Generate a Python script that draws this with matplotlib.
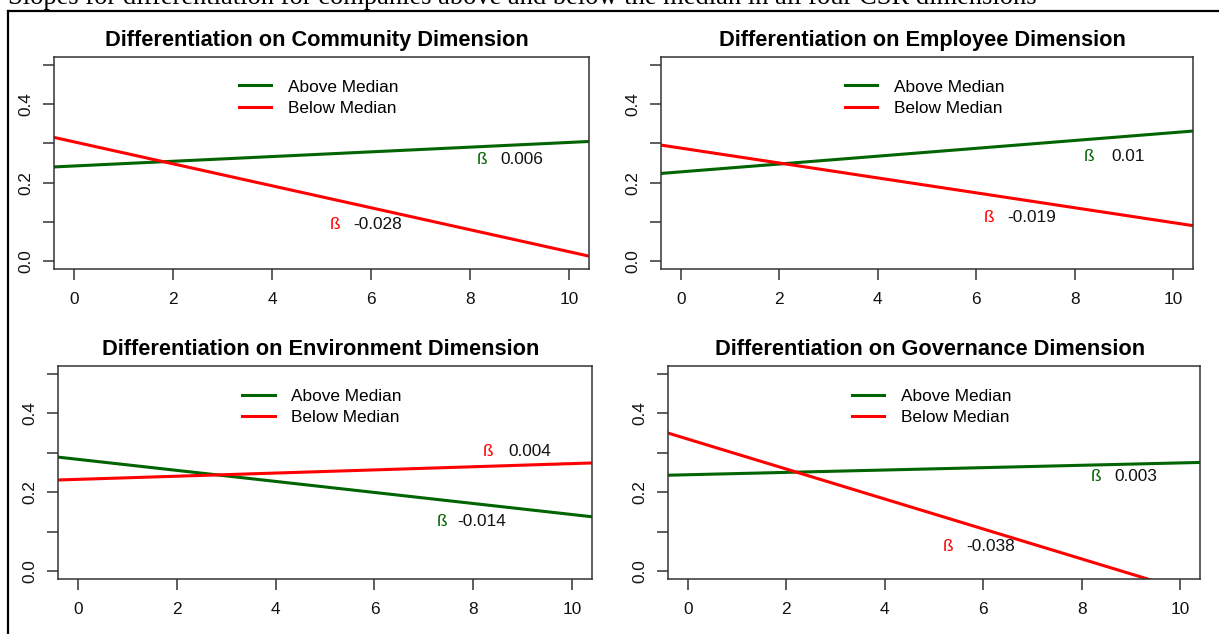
import numpy as np
import matplotlib
matplotlib.use("Agg")
import matplotlib.pyplot as plt
from matplotlib.lines import Line2D

plt.rcParams['font.family'] = ['Liberation Sans', 'DejaVu Sans']

W, H = 1219, 634

# data
titles = ["Differentiation on Community Dimension",
          "Differentiation on Employee Dimension",
          "Differentiation on Environment Dimension",
          "Differentiation on Governance Dimension"]
above_icpt = [0.2424, 0.2274, 0.2834, 0.2443]
above_slope = [0.006, 0.010, -0.014, 0.003]
below_icpt = [0.304, 0.288, 0.2326, 0.3348]
below_slope = [-0.028, -0.019, 0.004, -0.038]
above_lab = ["0.006", "0.01", "-0.014", "0.003"]
below_lab = ["-0.028", "-0.019", "0.004", "-0.038"]
above_lab_x = [8.24, 8.28, 7.37, 8.30]
above_lab_y = [0.260, 0.266, 0.126, 0.240]
below_lab_x = [5.28, 6.27, 8.29, 5.29]
below_lab_y = [0.094, 0.112, 0.303, 0.062]
xticks = [0, 2, 4, 6, 8, 10]
yticks = [0.0, 0.1, 0.2, 0.3, 0.4, 0.5]
ylabels = ["0.0", "", "0.2", "", "0.4", ""]
caption = "Slopes for differentiation for companies above and below the median in all four CSR dimensions"

# panel boxes in pixels: left, top, right, bottom
boxes = [(54, 57, 589, 269), (661, 57, 1193, 269),
         (58, 366, 592, 579), (668, 366, 1200, 579)]

GREEN = "#006400"
RED = "#ff0000"
FS = 12.4

fig = plt.figure(figsize=(W / 100, H / 100), dpi=100)
fig.patch.set_facecolor("white")

# caption of the page, cut off at the top as in the screenshot
fig.text(8 / W, 1 - 4.5 / H, caption, family="Liberation Serif", fontsize=19.1,
         ha="left", va="baseline", color="black")
fig.add_artist(Line2D([8.3 / W, 8.3 / W], [0, 1 - 10.5 / H], color="black", lw=1.6,
                      transform=fig.transFigure))
fig.add_artist(Line2D([8.3 / W, 1], [1 - 10.5 / H, 1 - 10.5 / H], color="black", lw=1.6,
                      transform=fig.transFigure))

xs = np.array([-0.4, 10.4])
for i in range(4):
    l, t, r, b = boxes[i]
    ax = fig.add_axes([l / W, 1 - b / H, (r - l) / W, (b - t) / H])
    ax.set_xlim(-0.4, 10.4)
    ax.set_ylim(-0.02, 0.52)
    ax.plot(xs, above_icpt[i] + above_slope[i] * xs, color=GREEN, lw=2.2, label="Above Median")
    ax.plot(xs, below_icpt[i] + below_slope[i] * xs, color=RED, lw=2.2, label="Below Median")

    ax.text(above_lab_x[i], above_lab_y[i], "ß", color=GREEN, fontsize=FS, ha="center", va="center")
    ax.text(above_lab_x[i] + 0.8, above_lab_y[i], above_lab[i], color="#111111", fontsize=FS,
            ha="center", va="center")
    ax.text(below_lab_x[i], below_lab_y[i], "ß", color=RED, fontsize=FS, ha="center", va="center")
    ax.text(below_lab_x[i] + 0.85, below_lab_y[i], below_lab[i], color="#111111", fontsize=FS,
            ha="center", va="center")

    ax.text(0.492, 1.0 + 11 / (b - t), titles[i], transform=ax.transAxes, ha="center",
            va="baseline", fontsize=15.65, fontweight="bold", color="black")

    ax.legend(loc="upper left", bbox_to_anchor=(0.345, 0.894), frameon=False, fontsize=FS,
              handlelength=1.9, handletextpad=0.95, labelspacing=0.37, borderpad=0,
              borderaxespad=0)

    ax.set_xticks(xticks)
    ax.set_xticklabels([str(v) for v in xticks])
    ax.set_yticks(yticks)
    ax.set_yticklabels(ylabels)
    ax.tick_params(axis="both", direction="out", length=7.7, width=1.1, color="#333333",
                   labelsize=FS, labelcolor="#111111")
    ax.tick_params(axis="x", pad=8.5)
    ax.tick_params(axis="y", pad=7)
    for lab in ax.get_yticklabels():
        lab.set_rotation(90)
        lab.set_va("center")
    for s in ax.spines.values():
        s.set_linewidth(1.1)
        s.set_color("#333333")

fig.savefig("out.png", dpi=100, facecolor="white")
